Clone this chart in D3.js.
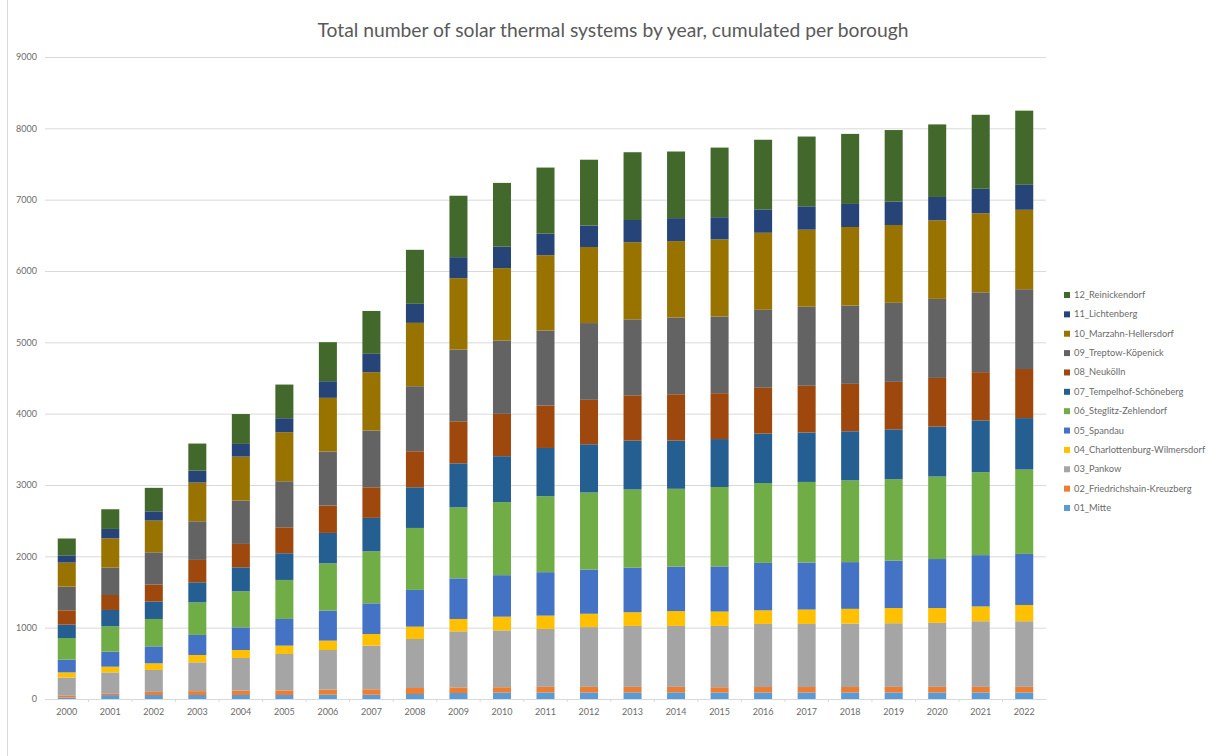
<!DOCTYPE html>
<html>
<head>
<meta charset="utf-8">
<script src="https://cdn.jsdelivr.net/npm/d3@7"></script>
<style>
	body { margin: 0; background: #fff; }
	svg { display: block; }
	text { font-family: Lato, "Open Sans", sans-serif; }
</style>
</head>
<body>
<svg id="chart" width="1220" height="756"></svg>
<script>
const years = ['2000','2001','2002','2003','2004','2005','2006','2007','2008','2009','2010','2011',
	'2012','2013','2014','2015','2016','2017','2018','2019','2020','2021','2022'];

const boroughs = ['01_Mitte','02_Friedrichshain-Kreuzberg','03_Pankow','04_Charlottenburg-Wilmersdorf',
	'05_Spandau','06_Steglitz-Zehlendorf','07_Tempelhof-Schöneberg','08_Neukölln','09_Treptow-Köpenick',
	'10_Marzahn-Hellersdorf','11_Lichtenberg','12_Reinickendorf'];

const boroughColors = ['#5b9bd5','#ed7d31','#a5a5a5','#ffc000','#4472c4','#70ad47',
	'#255e91','#9e480e','#636363','#997300','#264478','#43682b'];

const yTicks = [0, 1000, 2000, 3000, 4000, 5000, 6000, 7000, 8000, 9000];

// systems per borough and year
const mitte = [20,55,56,56,56,56,60,60,70,84,90,92,92,93,93,90,92,92,92,92,92,92,92];
const friedrichshain = [25,25,44,54,61,65,71,76,84,79,75,78,78,77,77,75,76,76,76,78,78,78,78];
const pankow = [255,293,307,404,458,510,556,612,687,785,797,812,838,854,854,859,884,884,888,892,897,920,920];
const charlottenburg = [73,80,93,103,112,117,131,163,173,174,192,187,187,192,208,202,191,202,208,213,208,207,228];
const spandau = [178,210,238,281,317,374,420,430,515,569,582,609,619,624,624,633,665,659,655,666,687,720,716];
const steglitz = [304,355,384,457,505,547,664,729,869,996,1024,1065,1081,1097,1091,1113,1119,1130,1146,1140,1157,1163,1183];
const tempelhof = [187,230,243,281,337,374,426,469,570,617,644,676,676,686,676,672,693,693,688,699,699,726,721];
const neukoelln = [201,210,238,314,328,364,383,429,505,589,593,597,623,634,649,643,643,655,665,666,683,676,688];
const treptow = [332,383,453,541,607,645,757,795,912,1006,1029,1050,1076,1065,1076,1075,1093,1108,1097,1108,1108,1119,1119];
const marzahn = [337,411,445,543,617,688,754,818,888,1000,1014,1055,1066,1081,1071,1081,1080,1080,1102,1091,1102,1108,1113];
const lichtenberg = [102,132,130,168,178,196,233,258,267,295,301,302,301,312,322,311,328,328,323,327,327,344,350];
const reinickendorf = [236,276,329,379,419,472,547,601,757,861,894,927,923,950,934,976,976,978,982,1004,1017,1037,1040];

const seriesValues = [mitte, friedrichshain, pankow, charlottenburg, spandau, steglitz,
	tempelhof, neukoelln, treptow, marzahn, lichtenberg, reinickendorf];

//-- layout --//

const plot = { left: 45, right: 1046, top: 57, bottom: 699 };
const textColor = '#6b6b6b';
const gridColor = '#d9d9d9';

const svg = d3.select('#chart');

// rows for d3.stack
let table = years.map(function(year, i) {
	let row = { year: year };
	boroughs.forEach(function(b, k) { row[b] = seriesValues[k][i]; });
	return row;
});

let stacked = d3.stack().keys(boroughs)(table);

let xScale = d3.scaleBand()
	.domain(years)
	.range([ plot.left, plot.right ])
	.paddingInner(0.586)
	.paddingOuter(0.293);
let yScale = d3.scaleLinear()
	.domain([ 0, 9000 ])
	.range([ plot.bottom, plot.top ]);
let color = d3.scaleOrdinal()
	.domain(boroughs)
	.range(boroughColors);

drawFrame();
drawTitle();
drawGrid();
drawBars();
drawXAxis();
drawLegend();

//-- functions --//

function drawFrame() {
	svg.append('line')
		.attr('x1', 7.5).attr('x2', 7.5)
		.attr('y1', 0).attr('y2', 756)
		.attr('stroke', gridColor);
}

function drawTitle() {
	svg.append('text')
		.attr('x', 613)
		.attr('y', 37)
		.attr('text-anchor', 'middle')
		.attr('font-size', 19.3)
		.attr('fill', '#595959')
		.text('Total number of solar thermal systems by year, cumulated per borough');
}

function drawGrid() {
	let yAxis = d3.axisLeft(yScale)
		.tickValues(yTicks)
		.tickSize(-(plot.right - plot.left))
		.tickPadding(8)
		.tickFormat(d3.format('d'));

	let g = svg.append('g')
		.attr('transform', 'translate(' + plot.left + ',0)')
		.call(yAxis);

	g.select('.domain').remove();
	g.selectAll('.tick line')
		.attr('stroke', gridColor);
	g.selectAll('.tick text')
		.attr('fill', textColor)
		.attr('font-size', 9);
}

function drawBars() {
	svg.append('g')
		.selectAll('g')
		.data(stacked)
		.join('g')
		.attr('fill', function(d) { return color(d.key); })
		.selectAll('rect')
		.data(function(d) { return d; })
		.join('rect')
		.attr('x', function(d) { return xScale(d.data.year); })
		.attr('y', function(d) { return yScale(d[1]); })
		.attr('width', xScale.bandwidth())
		.attr('height', function(d) { return yScale(d[0]) - yScale(d[1]); });
}

function drawXAxis() {
	let xAxis = d3.axisBottom(xScale)
		.tickSize(0)
		.tickPadding(10);

	let g = svg.append('g')
		.attr('transform', 'translate(0,' + plot.bottom + ')')
		.call(xAxis);

	g.select('.domain')
		.attr('stroke', gridColor);
	g.selectAll('.tick text')
		.attr('fill', textColor)
		.attr('font-size', 9);

	// small marks between categories
	g.selectAll('.sep')
		.data(years.slice(1))
		.join('line')
		.attr('class', 'sep')
		.attr('x1', function(d) { return xScale(d) - xScale.step() * xScale.paddingInner() / 2; })
		.attr('x2', function(d) { return xScale(d) - xScale.step() * xScale.paddingInner() / 2; })
		.attr('y1', 0)
		.attr('y2', 3)
		.attr('stroke', gridColor);
}

function drawLegend() {
	let legendItems = boroughs.slice().reverse();
	let legendY = d3.scalePoint()
		.domain(legendItems)
		.range([ 295, 508 ]);

	let item = svg.append('g')
		.selectAll('g')
		.data(legendItems)
		.join('g')
		.attr('transform', function(d) { return 'translate(1064,' + legendY(d) + ')'; });

	item.append('rect')
		.attr('x', 0)
		.attr('y', -3)
		.attr('width', 6)
		.attr('height', 6)
		.attr('fill', function(d) { return color(d); });

	item.append('text')
		.attr('x', 10)
		.attr('y', 3)
		.attr('font-size', 9.3)
		.attr('fill', textColor)
		.text(function(d) { return d; });
}
</script>
</body>
</html>
